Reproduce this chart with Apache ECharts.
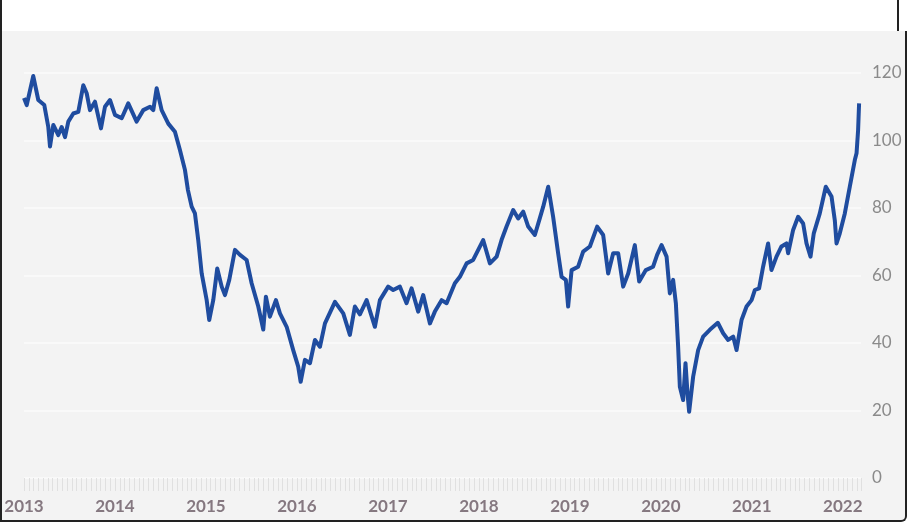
<!DOCTYPE html>
<html>
<head>
<meta charset="utf-8">
<script src="https://cdn.jsdelivr.net/npm/echarts@6/dist/echarts.min.js"></script>
<style>
  html, body { margin: 0; padding: 0; background: #ffffff; }
  #wrap { position: relative; width: 910px; height: 527px; overflow: hidden; background: #ffffff; }
  #panel { position: absolute; left: 0; top: 31px; width: 903px; height: 489px;
           background: #f3f3f3; border-left: 2px solid #222; border-right: 2px solid #222;
           border-bottom: 2px solid #222; border-bottom-right-radius: 6px; }
  #topline { position: absolute; left: 0; top: 0; width: 2px; height: 31px; background: #222; }
  #topline2 { position: absolute; left: 897px; top: 0; width: 2px; height: 31px; background: #222; }
  #chart { position: absolute; left: 0; top: 0; width: 910px; height: 527px; }
</style>
</head>
<body>
<div id="wrap">
  <div id="panel"></div>
  <div id="topline"></div>
  <div id="topline2"></div>
  <div id="chart"></div>
</div>
<script>
// Time in decimal years
const years = [
  2013.000, 2013.030, 2013.102, 2013.157, 2013.223, 2013.267, 2013.286, 2013.322, 2013.377, 2013.414,
  2013.451, 2013.487, 2013.542, 2013.597, 2013.652, 2013.689, 2013.725, 2013.780, 2013.846, 2013.890,
  2013.945, 2014.000, 2014.074, 2014.146, 2014.238, 2014.311, 2014.385, 2014.421, 2014.458, 2014.513,
  2014.586, 2014.659, 2014.714, 2014.769, 2014.802, 2014.843, 2014.879, 2014.915, 2014.953, 2015.008,
  2015.036, 2015.080, 2015.124, 2015.173, 2015.209, 2015.256, 2015.319, 2015.374, 2015.447, 2015.502,
  2015.575, 2015.630, 2015.659, 2015.703, 2015.769, 2015.813, 2015.887, 2015.959, 2016.014, 2016.041,
  2016.088, 2016.143, 2016.198, 2016.253, 2016.308, 2016.418, 2016.509, 2016.582, 2016.637, 2016.692,
  2016.766, 2016.857, 2016.912, 2017.003, 2017.058, 2017.132, 2017.205, 2017.260, 2017.333, 2017.388,
  2017.462, 2017.516, 2017.590, 2017.645, 2017.736, 2017.791, 2017.865, 2017.937, 2018.047, 2018.121,
  2018.195, 2018.249, 2018.304, 2018.377, 2018.432, 2018.487, 2018.542, 2018.615, 2018.670, 2018.707,
  2018.762, 2018.816, 2018.871, 2018.909, 2018.956, 2018.981, 2019.019, 2019.091, 2019.146, 2019.220,
  2019.300, 2019.366, 2019.421, 2019.476, 2019.531, 2019.586, 2019.641, 2019.714, 2019.762, 2019.835,
  2019.915, 2019.959, 2020.008, 2020.063, 2020.099, 2020.135, 2020.165, 2020.190, 2020.209, 2020.245,
  2020.271, 2020.293, 2020.311, 2020.355, 2020.410, 2020.465, 2020.538, 2020.626, 2020.685, 2020.740,
  2020.795, 2020.832, 2020.887, 2020.942, 2020.997, 2021.033, 2021.080, 2021.124, 2021.179, 2021.216,
  2021.271, 2021.326, 2021.381, 2021.399, 2021.454, 2021.509, 2021.564, 2021.601, 2021.645, 2021.681,
  2021.747, 2021.813, 2021.876, 2021.912, 2021.931, 2021.967, 2022.022, 2022.077, 2022.132, 2022.151,
  2022.168, 2022.179
];
const prices = [
  112.6, 110.5, 119.1, 112.0, 110.5, 104.0, 98.2, 104.6, 101.6, 104.0,
  101.0, 105.6, 108.0, 108.5, 116.4, 114.0, 109.0, 111.5, 103.6, 110.0,
  112.0, 107.6, 106.6, 111.0, 105.6, 109.0, 110.0, 109.0, 115.5, 109.0,
  105.0, 102.6, 97.2, 91.3, 85.3, 80.4, 78.4, 70.5, 60.6, 52.7,
  46.8, 52.7, 62.1, 56.7, 54.2, 58.7, 67.6, 66.1, 64.6, 57.7,
  50.8, 44.0, 53.7, 47.8, 52.7, 48.8, 44.8, 37.9, 33.0, 28.5,
  35.0, 34.0, 40.9, 38.9, 45.8, 52.2, 48.8, 42.4, 50.8, 48.5,
  52.7, 44.8, 52.7, 56.7, 55.7, 56.7, 51.8, 56.2, 49.3, 54.2,
  45.8, 49.3, 52.7, 51.8, 57.7, 59.6, 63.6, 64.6, 70.5, 63.6,
  65.6, 70.5, 74.5, 79.4, 76.9, 78.9, 74.5, 72.0, 77.0, 80.4,
  86.3, 77.4, 66.6, 59.6, 58.7, 50.8, 61.6, 62.6, 67.1, 68.6,
  74.5, 72.0, 60.6, 66.6, 66.6, 56.7, 60.6, 69.0, 58.2, 61.6,
  62.6, 66.1, 69.0, 65.6, 54.7, 58.7, 51.8, 38.9, 27.0, 23.1,
  34.0, 25.1, 19.6, 30.0, 37.9, 41.9, 43.9, 46.0, 42.9, 40.9,
  41.9, 37.9, 46.8, 50.8, 52.7, 55.7, 56.2, 62.6, 69.5, 61.6,
  65.6, 68.6, 69.5, 66.6, 73.5, 77.4, 75.4, 69.5, 65.6, 72.5,
  78.4, 86.3, 83.4, 76.4, 69.5, 72.5, 78.4, 86.3, 94.2, 96.2,
  103.0, 111.0
];
const yTicks = [0, 20, 40, 60, 80, 100, 120];
const xTickYears = [2013, 2014, 2015, 2016, 2017, 2018, 2019, 2020, 2021, 2022];

const chart = echarts.init(document.getElementById('chart'), null, { renderer: 'canvas' });
const seriesData = years.map((t, i) => [t, prices[i]]);

chart.setOption({
  backgroundColor: 'transparent',
  animation: false,
  grid: { left: 24, right: 49, top: 73, bottom: 49, containLabel: false },
  xAxis: {
    type: 'value',
    min: xTickYears[0],
    max: 2022.2,
    interval: 1,
    axisLine: { show: false },
    axisTick: { show: true, length: 13, lineStyle: { color: '#e0e0e0', width: 1 } },
    minorTick: { show: true, splitNumber: 19, length: 13, lineStyle: { color: '#e0e0e0', width: 1 } },
    splitLine: { show: false },
    axisLabel: {
      margin: 20,
      color: '#857880',
      fontFamily: 'Lato',
      fontWeight: 'bold',
      fontSize: 17,
      showMaxLabel: false,
      formatter: v => (xTickYears.indexOf(Math.round(v * 1000) / 1000) >= 0 ? String(v) : '')
    }
  },
  yAxis: {
    type: 'value',
    position: 'right',
    min: yTicks[0],
    max: yTicks[yTicks.length - 1],
    interval: 20,
    axisLine: { show: false },
    axisTick: { show: false },
    splitLine: { show: true, lineStyle: { color: '#fbfbfb', width: 1.5 } },
    axisLabel: { margin: 11, color: '#8a8a8a', fontFamily: 'Lato', fontSize: 17 }
  },
  series: [{
    type: 'line',
    data: seriesData,
    showSymbol: false,
    smooth: false,
    lineStyle: { color: '#1f4c9f', width: 4, join: 'round' }
  }]
});
</script>
</body>
</html>
